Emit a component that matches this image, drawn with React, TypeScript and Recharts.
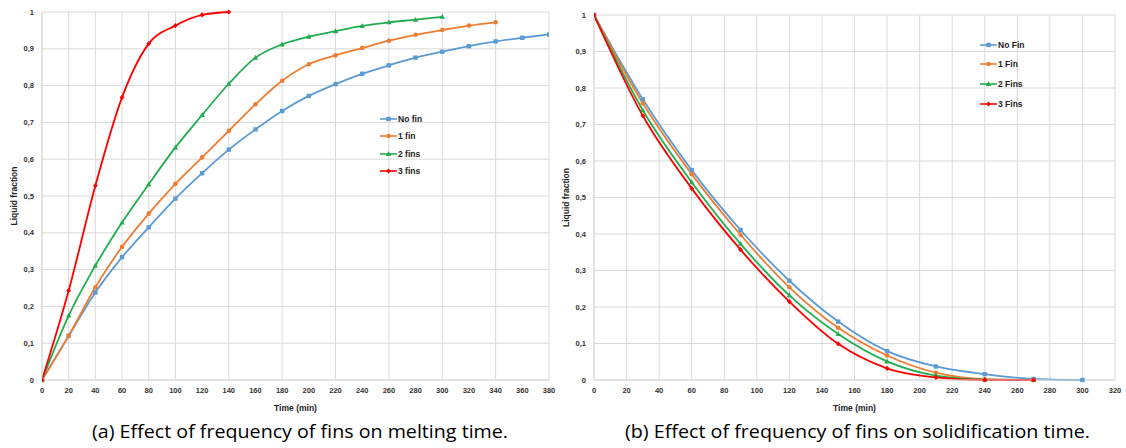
import React from 'react';
import { LineChart, Line, XAxis, YAxis, CartesianGrid, Legend, Label } from 'recharts';

// melting (a)
const meltTime = [0, 20, 40, 60, 80, 100, 120, 140, 160, 180, 200, 220, 240, 260, 280, 300, 320, 340, 360, 380];
const meltNoFin = [0, 0.12, 0.238, 0.334, 0.415, 0.493, 0.562, 0.626, 0.681, 0.731, 0.772, 0.804, 0.832, 0.855, 0.876, 0.892, 0.907, 0.92, 0.93, 0.939];
const melt1Fin = [0, 0.12, 0.252, 0.362, 0.452, 0.533, 0.605, 0.677, 0.749, 0.813, 0.858, 0.882, 0.902, 0.922, 0.938, 0.951, 0.963, 0.972];
const melt2Fins = [0, 0.175, 0.311, 0.428, 0.532, 0.632, 0.72, 0.805, 0.876, 0.912, 0.933, 0.948, 0.962, 0.972, 0.979, 0.987];
const melt3Fins = [0, 0.243, 0.528, 0.768, 0.914, 0.963, 0.992, 1.0];

// solidification (b)
const solidTime = [0, 30, 60, 90, 120, 150, 180, 210, 240, 270, 300];
const solidNoFin = [1, 0.769, 0.575, 0.411, 0.272, 0.16, 0.079, 0.037, 0.016, 0.003, 0];
const solid1Fin = [1, 0.758, 0.564, 0.398, 0.254, 0.143, 0.067, 0.02, 0.002, 0];
const solid2Fins = [1, 0.739, 0.542, 0.373, 0.232, 0.126, 0.051, 0.012, 0.001, 0];
const solid3Fins = [1, 0.724, 0.525, 0.357, 0.215, 0.099, 0.032, 0.007, 0, 0];

const meltXTicks = [0, 20, 40, 60, 80, 100, 120, 140, 160, 180, 200, 220, 240, 260, 280, 300, 320, 340, 360, 380];
const solidXTicks = [0, 20, 40, 60, 80, 100, 120, 140, 160, 180, 200, 220, 240, 260, 280, 300, 320];
const yTicks = [0, 0.1, 0.2, 0.3, 0.4, 0.5, 0.6, 0.7, 0.8, 0.9, 1];

const meltNames = ['No fin', '1 fin', '2 fins', '3 fins'];
const solidNames = ['No Fin', '1 Fin', '2 Fins', '3 Fins'];
const colors = ['#5b9bd5', '#ed7d31', '#21ad4f', '#ff0000'];
const shapes = ['square', 'circle', 'triangle', 'diamond'];

const FONT = '"Liberation Sans Narrow", "Liberation Sans", Arial, sans-serif';
const GRID = '#d9d9d9';

const zip = (t: number[], v: number[]) => v.map((y, i) => ({ t: t[i], v: y }));

const fmtY = (v: number) => (v === 0 || v === 1 ? String(v) : v.toFixed(1).replace('.', ','));

const Marker = ({ shape, cx, cy, color }: { shape: string; cx: number; cy: number; color: string }) => {
  if (shape === 'square') return <rect x={cx - 2.2} y={cy - 2.2} width={4.4} height={4.4} fill={color} />;
  if (shape === 'circle') return <circle cx={cx} cy={cy} r={2.3} fill={color} />;
  if (shape === 'triangle')
    return <polygon points={`${cx},${cy - 2.8} ${cx + 2.7},${cy + 2} ${cx - 2.7},${cy + 2}`} fill={color} />;
  return <polygon points={`${cx},${cy - 2.6} ${cx + 2.4},${cy} ${cx},${cy + 2.6} ${cx - 2.4},${cy}`} fill={color} />;
};

const dotFor = (i: number) => (props: any) => (
  <Marker key={`d${i}-${props.index}`} shape={shapes[i]} cx={props.cx} cy={props.cy} color={colors[i]} />
);

const LegendBox = ({ names, gap }: { names: string[]; gap: number }) => (
  <div style={{ fontFamily: FONT, fontSize: 8.5, fontWeight: 'bold', color: '#222' }}>
    {names.map((n, i) => (
      <div key={n} style={{ display: 'flex', alignItems: 'center', height: gap }}>
        <svg width={17} height={8}>
          <line x1={0} y1={4} x2={17} y2={4} stroke={colors[i]} strokeWidth={1.6} />
          <Marker shape={shapes[i]} cx={8.5} cy={4} color={colors[i]} />
        </svg>
        <span style={{ marginLeft: 1 }}>{n}</span>
      </div>
    ))}
  </div>
);

const tickStyle = { fontFamily: FONT, fontSize: 7.5, fontWeight: 'bold', fill: '#333' };
const titleStyle = { fontFamily: FONT, fontSize: 8.5, fontWeight: 'bold', fill: '#222' };

interface PanelProps {
  width: number;
  margin: { top: number; right: number; left: number; bottom: number };
  yWidth: number;
  yLabelOffset: number;
  xTicks: number[];
  series: { t: number; v: number }[][];
  names: string[];
  legendPos: { left: number; top: number };
  legendGap: number;
}

const Panel = ({ width, margin, yWidth, yLabelOffset, xTicks, series, names, legendPos, legendGap }: PanelProps) => (
  <LineChart width={width} height={420} margin={margin}>
    <CartesianGrid stroke={GRID} strokeWidth={1} />
    <XAxis
      type="number"
      dataKey="t"
      domain={[xTicks[0], xTicks[xTicks.length - 1]]}
      ticks={xTicks}
      tickLine={false}
      axisLine={{ stroke: GRID }}
      tick={tickStyle}
      height={31}
      allowDataOverflow
    >
      <Label value="Time (min)" position="insideBottom" offset={0} style={titleStyle} />
    </XAxis>
    <YAxis
      type="number"
      domain={[0, 1]}
      ticks={yTicks}
      tickFormatter={fmtY}
      tickLine={false}
      axisLine={{ stroke: GRID }}
      tick={tickStyle}
      width={yWidth}
    >
      <Label
        value="Liquid fraction"
        angle={-90}
        position="insideLeft"
        offset={yLabelOffset}
        style={{ ...titleStyle, textAnchor: 'middle' }}
      />
    </YAxis>
    <Legend
      layout="vertical"
      align="center"
      verticalAlign="middle"
      wrapperStyle={{ left: legendPos.left, top: legendPos.top, width: 60 }}
      content={() => <LegendBox names={names} gap={legendGap} />}
    />
    {series.map((d, i) => (
      <Line
        key={names[i]}
        data={d}
        dataKey="v"
        name={names[i]}
        type="monotone"
        stroke={colors[i]}
        strokeWidth={1.8}
        dot={dotFor(i)}
        activeDot={false}
        isAnimationActive={false}
      />
    ))}
  </LineChart>
);

const captionStyle = { fontFamily: '"Liberation Sans Narrow", "Open Sans", sans-serif', fontSize: 19, fill: '#000' };

export default function App() {
  const meltSeries = [zip(meltTime, meltNoFin), zip(meltTime, melt1Fin), zip(meltTime, melt2Fins), zip(meltTime, melt3Fins)];
  const solidSeries = [zip(solidTime, solidNoFin), zip(solidTime, solid1Fin), zip(solidTime, solid2Fins), zip(solidTime, solid3Fins)];
  return (
    <div style={{ position: 'absolute', left: 0, top: 0, width: 1126, height: 448, background: '#fff' }}>
      <div style={{ position: 'absolute', left: 0, top: 0 }}>
        <Panel
          width={560}
          margin={{ top: 12, right: 11, left: 0, bottom: 9 }}
          yWidth={42}
          yLabelOffset={14}
          xTicks={meltXTicks}
          series={meltSeries}
          names={meltNames}
          legendPos={{ left: 380, top: 110 }}
          legendGap={17.5}
        />
      </div>
      <div style={{ position: 'absolute', left: 560, top: 0 }}>
        <Panel
          width={566}
          margin={{ top: 15, right: 11, left: 0, bottom: 9 }}
          yWidth={34}
          yLabelOffset={6}
          xTicks={solidXTicks}
          series={solidSeries}
          names={solidNames}
          legendPos={{ left: 420, top: 35 }}
          legendGap={19.6}
        />
      </div>
      <svg style={{ position: 'absolute', left: 0, top: 410 }} width={1126} height={38}>
        <text x={92} y={28} textLength={416} lengthAdjust="spacingAndGlyphs" style={captionStyle}>
          (a) Effect of frequency of fins on melting time.
        </text>
        <text x={625} y={28} textLength={465} lengthAdjust="spacingAndGlyphs" style={captionStyle}>
          (b) Effect of frequency of fins on solidification time.
        </text>
      </svg>
    </div>
  );
}
